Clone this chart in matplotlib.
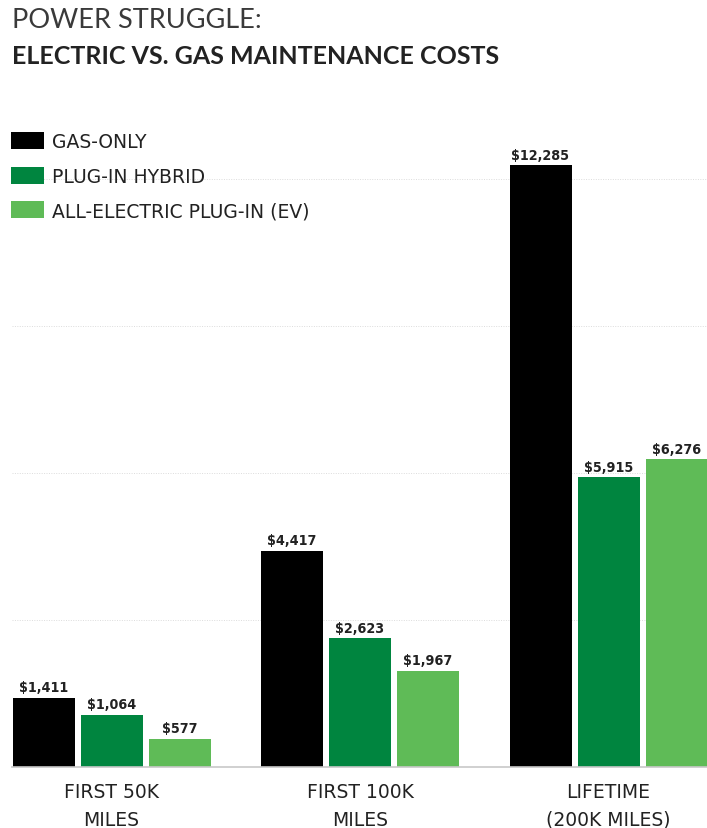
import matplotlib
matplotlib.use("Agg")
import matplotlib.pyplot as plt
import numpy as np

categories = ["FIRST 50K\nMILES", "FIRST 100K\nMILES", "LIFETIME\n(200K MILES)"]
series_names = ["GAS-ONLY", "PLUG-IN HYBRID", "ALL-ELECTRIC PLUG-IN (EV)"]
gas_only = [1411, 4417, 12285]
plug_in_hybrid = [1064, 2623, 5915]
all_electric = [577, 1967, 6276]
colors = ["#000000", "#00853f", "#5fbb57"]
grid_ticks = [3000, 6000, 9000, 12000]

W, H = 707, 829
fig = plt.figure(figsize=(W / 100, H / 100), dpi=100)
base_px = 768
scale = (768 - 166) / 12285.0
top_px = 40
ymax = (base_px - top_px) / scale
ax = fig.add_axes([12 / W, 1 - base_px / H, (707 - 12) / W, (base_px - top_px) / H])

spacing = 248.5
x0 = np.arange(len(categories))
offset = 68 / spacing
width = 62 / spacing
series = [gas_only, plug_in_hybrid, all_electric]

for yv in grid_ticks:
    ax.axhline(yv, color="#dcdcdc", lw=0.7, ls=(0, (1, 1.5)), zorder=0)

for i, (vals, col, name) in enumerate(zip(series, colors, series_names)):
    xs = x0 + (i - 1) * offset
    ax.bar(xs, vals, width=width, color=col, label=name, zorder=2)
    for xv, v in zip(xs, vals):
        ax.annotate("${:,}".format(v), (xv, v), xytext=(0, 2.5), textcoords="offset points",
                    ha="center", va="bottom", fontsize=10.3, fontweight="bold",
                    color="#222222", family="DejaVu Sans", fontstretch="condensed")

ax.set_xlim((12 - 111.5) / spacing, (707 - 111.5) / spacing)
ax.set_ylim(0, ymax)
for s in ["top", "right", "left"]:
    ax.spines[s].set_visible(False)
ax.spines["bottom"].set_color("#c8c8c8")
ax.spines["bottom"].set_linewidth(1.2)
ax.set_yticks([])
ax.set_xticks(x0)
ax.set_xticklabels(categories, fontsize=13.5, color="#222222", linespacing=1.62,
                   family="DejaVu Sans")
ax.tick_params(axis="x", length=0, pad=10.5)

# legend
leg = ax.legend(loc="upper left", bbox_to_anchor=(-0.001, (base_px - 133) / (base_px - top_px)),
                frameon=False, prop={"family": "DejaVu Sans", "size": 13.5},
                handlelength=1.75, handleheight=1.0,
                handletextpad=0.4, labelspacing=0.83, borderaxespad=0, borderpad=0)
for t in leg.get_texts():
    t.set_color("#222222")

fig.text(12 / W, 1 - 28 / H, "POWER STRUGGLE:", ha="left", va="baseline",
         fontsize=19.5, family="Lato", fontweight="normal", color="#3a3a3a")
fig.text(12 / W, 1 - 64.5 / H, "ELECTRIC VS. GAS MAINTENANCE COSTS", ha="left", va="baseline",
         fontsize=18, family="Lato", fontweight="bold", color="#222222")

fig.savefig("out.png", dpi=100)
